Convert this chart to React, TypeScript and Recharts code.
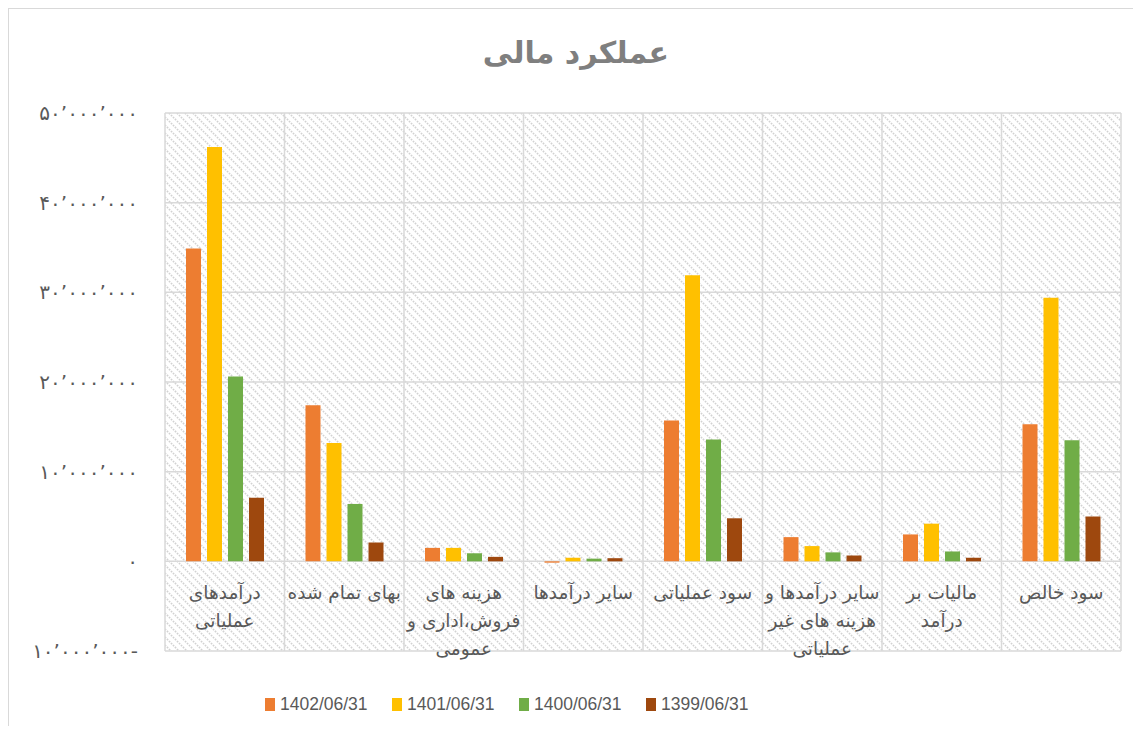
import { BarChart, Bar, XAxis, YAxis, CartesianGrid } from 'recharts';

const categories = [
  'درآمدهای\nعملیاتی',
  'بهای تمام شده',
  'هزینه های\nفروش،اداری و\nعمومی',
  'سایر درآمدها',
  'سود عملیاتی',
  'سایر درآمدها و\nهزینه های غیر\nعملیاتی',
  'مالیات بر\nدرآمد',
  'سود خالص',
];

const v1402 = [34900000, 17400000, 1500000, -150000, 15700000, 2700000, 3000000, 15300000];
const v1401 = [46200000, 13200000, 1500000, 400000, 31900000, 1700000, 4200000, 29400000];
const v1400 = [20600000, 6400000, 900000, 300000, 13600000, 1000000, 1100000, 13500000];
const v1399 = [7100000, 2100000, 500000, 350000, 4800000, 650000, 400000, 5000000];

const seriesNames = ['1402/06/31', '1401/06/31', '1400/06/31', '1399/06/31'];
const seriesColors = ['#ED7D31', '#FFC000', '#70AD47', '#9E480E'];

const yTicks = [-10000000, 0, 10000000, 20000000, 30000000, 40000000, 50000000];

const data = categories.map((name, i) => ({
  name,
  s1402: v1402[i],
  s1401: v1401[i],
  s1400: v1400[i],
  s1399: v1399[i],
}));
const keys = ['s1402', 's1401', 's1400', 's1399'];

// persian digits, separator every 3, minus goes at the end like excel shows it
const faDigits = '۰۱۲۳۴۵۶۷۸۹';
const formatFa = (v: number) => {
  const s = Math.abs(v).toString().replace(/\B(?=(\d{3})+(?!\d))/g, '’');
  const fa = s.replace(/\d/g, (d) => faDigits[+d]);
  return v < 0 ? fa + '-' : fa;
};

const CategoryTick = ({ x, y, payload }: any) => {
  const lines = String(payload.value).split('\n');
  return (
    <g>
      {lines.map((line: string, i: number) => (
        <text
          key={i}
          x={x}
          y={y - 59 + i * 28}
          textAnchor="middle"
          dominantBaseline="central"
          fill="#595959"
          fontSize={18.5}
          fontFamily="DejaVu Sans"
        >
          {line}
        </text>
      ))}
    </g>
  );
};

export default function App() {
  const W = 1124;
  const H = 717;

  return (
    <div
      style={{
        position: 'relative',
        width: 1125,
        height: 718,
        boxSizing: 'border-box',
        borderTop: '1px solid #d9d9d9',
        borderLeft: '1px solid #d9d9d9',
        overflow: 'hidden',
        background: '#fff',
      }}
    >
      <div
        style={{
          position: 'absolute',
          left: 367,
          width: 400,
          top: 26,
          textAlign: 'center',
          fontFamily: 'DejaVu Sans',
          fontWeight: 'bold',
          fontSize: 30,
          color: '#7f7f7f',
          direction: 'rtl',
        }}
      >
        عملکرد مالی
      </div>

      <BarChart
        width={W}
        height={H}
        data={data}
        margin={{ top: 104, right: 12, bottom: 45, left: 0 }}
        barSize={15}
        barGap={6}
      >
        <defs>
          <pattern id="hatch" width="8" height="8" patternUnits="userSpaceOnUse">
            <rect width="8" height="8" fill="#ffffff" />
            <path
              d="M0,0 L8,8 M-2,6 L2,10 M6,-2 L10,2"
              stroke="#d2d2d2"
              strokeWidth={1.6}
              strokeDasharray="1.6 1.2"
            />
          </pattern>
        </defs>
        <CartesianGrid
          fill="url(#hatch)"
          stroke="#d9d9d9"
          strokeWidth={1.5}
          verticalCoordinatesGenerator={({ offset }: any) =>
            categories.map((_, i) => offset.left + (i * offset.width) / categories.length).concat(offset.left + offset.width)
          }
        />
        <XAxis
          dataKey="name"
          axisLine={false}
          tickLine={false}
          tickSize={0}
          tickMargin={0}
          height={30}
          interval={0}
          tick={<CategoryTick />}
        />
        <YAxis
          width={156}
          domain={[-10000000, 50000000]}
          ticks={yTicks}
          axisLine={false}
          tickLine={false}
          tickSize={0}
          tickMargin={27}
          tickFormatter={formatFa}
          tick={{ fill: '#595959', fontSize: 20, fontFamily: 'DejaVu Sans' }}
        />
        {keys.map((k, i) => (
          <Bar key={k} dataKey={k} name={seriesNames[i]} fill={seriesColors[i]} isAnimationActive={false} />
        ))}
      </BarChart>

      <div
        style={{
          position: 'absolute',
          left: 256,
          top: 683,
          display: 'flex',
          alignItems: 'center',
          fontFamily: 'Liberation Sans',
          fontSize: 17.5,
          color: '#595959',
          lineHeight: '24px',
        }}
      >
        {seriesNames.map((n, i) => (
          <div key={n} style={{ display: 'flex', alignItems: 'center', width: 127 }}>
            <span style={{ width: 10, height: 13, background: seriesColors[i], marginRight: 5, display: 'inline-block' }} />
            <span>{n}</span>
          </div>
        ))}
      </div>
    </div>
  );
}
